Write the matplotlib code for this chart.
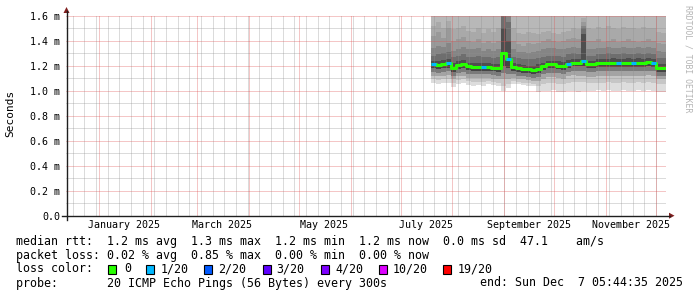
import matplotlib
matplotlib.use('Agg')
import matplotlib.pyplot as plt
import matplotlib.dates as mdates
from matplotlib.lines import Line2D
from matplotlib.patches import Polygon, Rectangle
import numpy as np
import pandas as pd

# ---------------- data ----------------
data_start = '2025-07-19'
step_days = 3
axis_start = '2024-12-12 05:44:35'
axis_end = '2025-12-07 05:44:35'

median = [1.21, 1.205, 1.21, 1.22, 1.18, 1.205, 1.215, 1.195, 1.19, 1.19, 1.19, 1.19, 1.185, 1.18,
          1.30, 1.25, 1.19, 1.18, 1.175, 1.17, 1.165, 1.175, 1.195, 1.21, 1.21, 1.20, 1.195, 1.215,
          1.225, 1.225, 1.235, 1.21, 1.21, 1.225, 1.225, 1.225, 1.225, 1.225, 1.225, 1.225, 1.225,
          1.225, 1.225, 1.23, 1.225, 1.18, 1.18, 1.17]
loss = [1, 0, 0, 1, 0, 0, 0, 0, 0, 0, 1, 0, 0, 0, 0, 1, 0, 0, 0, 0, 0, 0, 0, 0, 0, 0, 0, 1,
        0, 0, 1, 0, 0, 0, 0, 0, 0, 1, 0, 0, 1, 0, 0, 0, 1, 0, 0, 1]

# smoke boundaries above the median (inner -> outer)
top5 = [1.24, 1.235, 1.245, 1.25, 1.22, 1.235, 1.245, 1.225, 1.22, 1.225, 1.22, 1.22, 1.215, 1.215,
        1.50, 1.40, 1.225, 1.21, 1.205, 1.20, 1.20, 1.21, 1.225, 1.24, 1.24, 1.235, 1.23, 1.245,
        1.255, 1.255, 1.45, 1.24, 1.24, 1.255, 1.255, 1.255, 1.26, 1.255, 1.255, 1.26, 1.255, 1.26,
        1.255, 1.26, 1.255, 1.215, 1.21, 1.20]
top4 = [1.28, 1.29, 1.30, 1.31, 1.27, 1.28, 1.29, 1.27, 1.27, 1.28, 1.27, 1.27, 1.26, 1.27,
        1.60, 1.55, 1.27, 1.26, 1.25, 1.25, 1.25, 1.26, 1.27, 1.28, 1.28, 1.28, 1.27, 1.29,
        1.30, 1.29, 1.50, 1.28, 1.28, 1.29, 1.29, 1.30, 1.29, 1.29, 1.30, 1.29, 1.29, 1.30,
        1.29, 1.30, 1.29, 1.26, 1.26, 1.25]
top3 = [1.34, 1.36, 1.35, 1.38, 1.32, 1.33, 1.35, 1.33, 1.33, 1.34, 1.32, 1.33, 1.32, 1.33,
        1.60, 1.60, 1.33, 1.31, 1.31, 1.30, 1.31, 1.32, 1.33, 1.34, 1.34, 1.33, 1.33, 1.34,
        1.35, 1.34, 1.52, 1.33, 1.33, 1.34, 1.34, 1.35, 1.34, 1.34, 1.35, 1.34, 1.34, 1.35,
        1.34, 1.35, 1.34, 1.32, 1.31, 1.30]
top2 = [1.44, 1.47, 1.42, 1.50, 1.40, 1.41, 1.43, 1.40, 1.39, 1.41, 1.38, 1.40, 1.38, 1.40,
        1.60, 1.60, 1.40, 1.37, 1.36, 1.38, 1.37, 1.38, 1.40, 1.41, 1.40, 1.39, 1.40, 1.41,
        1.42, 1.41, 1.55, 1.40, 1.40, 1.41, 1.39, 1.40, 1.41, 1.39, 1.40, 1.41, 1.40, 1.39,
        1.40, 1.41, 1.40, 1.38, 1.37, 1.36]
top1 = [1.52, 1.55, 1.50, 1.56, 1.49, 1.50, 1.52, 1.48, 1.47, 1.50, 1.46, 1.49, 1.47, 1.50,
        1.60, 1.60, 1.50, 1.46, 1.45, 1.47, 1.46, 1.45, 1.47, 1.48, 1.46, 1.45, 1.47, 1.48,
        1.50, 1.49, 1.58, 1.50, 1.49, 1.51, 1.50, 1.52, 1.50, 1.49, 1.51, 1.50, 1.50, 1.49,
        1.51, 1.50, 1.50, 1.47, 1.46, 1.45]
# smoke boundaries below the median (inner -> outer)
bot5 = [1.18, 1.175, 1.18, 1.185, 1.15, 1.175, 1.185, 1.165, 1.16, 1.16, 1.16, 1.16, 1.155, 1.15,
        1.20, 1.18, 1.16, 1.15, 1.145, 1.14, 1.135, 1.145, 1.165, 1.18, 1.18, 1.17, 1.165, 1.185,
        1.195, 1.195, 1.20, 1.18, 1.18, 1.19, 1.19, 1.19, 1.19, 1.19, 1.19, 1.19, 1.19, 1.19,
        1.19, 1.195, 1.19, 1.15, 1.15, 1.14]
bot4 = [1.15, 1.145, 1.15, 1.155, 1.12, 1.145, 1.15, 1.135, 1.13, 1.13, 1.13, 1.13, 1.125, 1.12,
        1.14, 1.13, 1.13, 1.12, 1.115, 1.11, 1.105, 1.11, 1.13, 1.145, 1.145, 1.14, 1.13, 1.15,
        1.16, 1.16, 1.16, 1.15, 1.15, 1.155, 1.155, 1.155, 1.155, 1.155, 1.155, 1.155, 1.155, 1.155,
        1.155, 1.16, 1.155, 1.12, 1.12, 1.11]
bot3 = [1.12, 1.115, 1.12, 1.125, 1.09, 1.115, 1.12, 1.105, 1.10, 1.10, 1.10, 1.10, 1.095, 1.09,
        1.09, 1.09, 1.10, 1.095, 1.09, 1.085, 1.08, 1.075, 1.095, 1.11, 1.11, 1.10, 1.095, 1.115,
        1.125, 1.12, 1.12, 1.11, 1.11, 1.12, 1.12, 1.12, 1.12, 1.12, 1.12, 1.12, 1.12, 1.12,
        1.12, 1.125, 1.12, 1.09, 1.09, 1.08]
bot2 = [1.09, 1.085, 1.09, 1.095, 1.06, 1.085, 1.09, 1.075, 1.07, 1.07, 1.07, 1.075, 1.07, 1.065,
        1.04, 1.05, 1.075, 1.07, 1.065, 1.06, 1.055, 1.04, 1.05, 1.06, 1.065, 1.055, 1.05, 1.065,
        1.07, 1.07, 1.07, 1.06, 1.06, 1.065, 1.065, 1.07, 1.065, 1.065, 1.07, 1.065, 1.065, 1.07,
        1.065, 1.07, 1.065, 1.05, 1.05, 1.04]
bot1 = [1.06, 1.05, 1.06, 1.065, 1.03, 1.05, 1.06, 1.045, 1.04, 1.045, 1.04, 1.05, 1.045, 1.04,
        1.00, 1.02, 1.05, 1.05, 1.045, 1.04, 1.035, 0.99, 1.00, 1.00, 1.005, 0.99, 0.99, 1.00,
        0.995, 0.99, 1.00, 1.00, 1.00, 1.005, 1.00, 1.005, 1.00, 1.00, 1.005, 1.00, 1.00, 1.005,
        1.00, 1.005, 1.00, 0.99, 0.99, 0.99]

y_ticks = [0.0, 0.2, 0.4, 0.6, 0.8, 1.0, 1.2, 1.4, 1.6]
y_labels = ['0.0', '0.2 m', '0.4 m', '0.6 m', '0.8 m', '1.0 m', '1.2 m', '1.4 m', '1.6 m']
x_label_dates = ['2025-01-16', '2025-03-16', '2025-05-16', '2025-07-16', '2025-09-16', '2025-11-16']
x_labels = ['January 2025', 'March 2025', 'May 2025', 'July 2025', 'September 2025', 'November 2025']

loss_levels = ['0', '1/20', '2/20', '3/20', '4/20', '10/20', '19/20']
loss_colors = ['#26ff00', '#00b8ff', '#0059ff', '#5e00ff', '#7e00ff', '#dd00ff', '#ff0000']
loss_counts = [0, 1, 2, 3, 4, 10, 19]

legend_line1 = "median rtt:  1.2 ms avg  1.3 ms max  1.2 ms min  1.2 ms now  0.0 ms sd  47.1    am/s"
legend_line2 = "packet loss: 0.02 % avg  0.85 % max  0.00 % min  0.00 % now"
legend_line3 = "loss color:"
legend_line4 = "probe:       20 ICMP Echo Pings (56 Bytes) every 300s"
legend_end = "end: Sun Dec  7 05:44:35 2025"

# ---------------- figure ----------------
plt.rcParams['font.family'] = ['DejaVu Sans Mono', 'DejaVu Sans']
W, H = 697, 297
fig = plt.figure(figsize=(W / 100, H / 100), dpi=100)
fig.patch.set_facecolor('white')

def fx(px):
    return px / W

def fy(py):
    return 1 - py / H

L, R, T, B = 66.0, 666.0, 15.7, 215.7
ax = fig.add_axes([fx(L), fy(B), (R - L) / W, (B - T) / H])
ax.set_facecolor('white')
for s in ax.spines.values():
    s.set_visible(False)

x0 = mdates.date2num(pd.Timestamp(axis_start))
x1 = mdates.date2num(pd.Timestamp(axis_end))
ax.set_xlim(x0, x1)
ax.set_ylim(0, 1.6)

n = len(median)
t = pd.date_range(data_start, periods=n, freq=f'{step_days}D')
edges = np.append(mdates.date2num(t), x1)

def ext(a):
    a = list(a)
    return np.array(a + [a[-1]])

ytop = ax.get_ylim()[1]
bands = [
    (bot1, bot2, '#dddddd'),
    (bot2, bot3, '#c6c6c6'),
    (bot3, bot4, '#a4a4a4'),
    (bot4, bot5, '#7a7a7a'),
    (bot5, median, '#454545'),
    (median, top5, '#4e4e4e'),
    (top5, top4, '#6e6e6e'),
    (top4, top3, '#858585'),
    (top3, top2, '#999999'),
    (top2, top1, '#a9a9a9'),
    (top1, [ytop] * n, '#b8b8b8'),
]
for lo, hi, c in bands:
    ax.fill_between(edges, ext(lo), ext(hi), step='post', color=c, lw=0, zorder=1)

# grid (drawn over the smoke, like RRDtool); dotted 1px lines rendered as
# their averaged tone
grid_c = (0.56, 0.56, 0.56, 0.32)
mgrid_c = (0.87, 0.31, 0.31, 0.32)
gkw = dict(lw=0.72, ls='-', snap=True)
mondays = pd.date_range(axis_start, axis_end, freq='W-MON')
months = pd.date_range('2025-01-01', axis_end, freq='MS')
for d in mondays:
    ax.axvline(mdates.date2num(d), color=grid_c, zorder=2, **gkw)
for d in months:
    ax.axvline(mdates.date2num(d), color=mgrid_c, zorder=2.1, **gkw)
for v in np.arange(0.1, 1.65, 0.2):
    ax.axhline(v, color=grid_c, zorder=2, **gkw)
for v in y_ticks[1:]:
    ax.axhline(v, color=mgrid_c, zorder=2.1, **gkw)

# median line coloured by loss
ax.step(edges, ext(median), where='post', color=loss_colors[0], lw=2.2, zorder=3,
        solid_capstyle='butt')
for i in range(n):
    if loss[i] > 0:
        k = max(j for j, c in enumerate(loss_counts) if c <= loss[i])
        ax.hlines(median[i], edges[i], edges[i + 1], color=loss_colors[k], lw=2.2, zorder=4)

# ticks
ax.set_yticks(y_ticks)
ax.set_yticklabels(y_labels)
ax.set_xticks([mdates.date2num(pd.Timestamp(d)) for d in x_label_dates])
ax.set_xticklabels(x_labels)
ax.tick_params(axis='both', length=0, labelsize=7.2, colors='black')
ax.tick_params(axis='y', pad=4.3)
ax.tick_params(axis='x', pad=3.0)

# axis lines and arrows
axis_c = '#1f1f1f'
arrow_c = '#801f1f'
fig.add_artist(Line2D([fx(62), fx(670)], [fy(B), fy(B)], color=axis_c, lw=1.0))
fig.add_artist(Line2D([fx(L + 0.5), fx(L + 0.5)], [fy(B + 4), fy(11)], color=axis_c, lw=1.0))
fig.add_artist(Polygon([[fx(669), fy(B - 3)], [fx(669), fy(B + 3)], [fx(674.5), fy(B)]],
                       closed=True, color=arrow_c, lw=0))
fig.add_artist(Polygon([[fx(L - 2.5), fy(13)], [fx(L + 3.5), fy(13)], [fx(L + 0.5), fy(7)]],
                       closed=True, color=arrow_c, lw=0))

# axis title & watermark
fig.text(fx(10), fy(113), 'Seconds', rotation=90, ha='center', va='center', fontsize=8)
fig.text(fx(688), fy(59), 'RRDTOOL / TOBI OETIKER', rotation=270, ha='center', va='center',
         fontsize=5.9, color='#b4b4b4')

# legend
lf = 8.35
fig.text(fx(16), fy(241), legend_line1, ha='left', va='center', fontsize=lf)
fig.text(fx(16), fy(255), legend_line2, ha='left', va='center', fontsize=lf)
fig.text(fx(16), fy(269), legend_line3, ha='left', va='center', fontsize=lf)
fig.text(fx(16), fy(283), legend_line4, ha='left', va='center', fontsize=lf)
fig.text(fx(480), fy(283), legend_end, ha='left', va='center', fontsize=lf)

box_x = [108, 146, 204, 263, 321, 379, 443]
lab_x = [124, 160.5, 218.5, 276.5, 335, 393, 457.5]
for bx, lx, lab, c in zip(box_x, lab_x, loss_levels, loss_colors):
    fig.add_artist(Rectangle((fx(bx), fy(273.5)), 8 / W, 9 / H, facecolor=c,
                             edgecolor='black', lw=0.8))
    fig.text(fx(lx), fy(269), lab, ha='left', va='center', fontsize=lf)

fig.savefig('out.png', dpi=100, facecolor='white')
